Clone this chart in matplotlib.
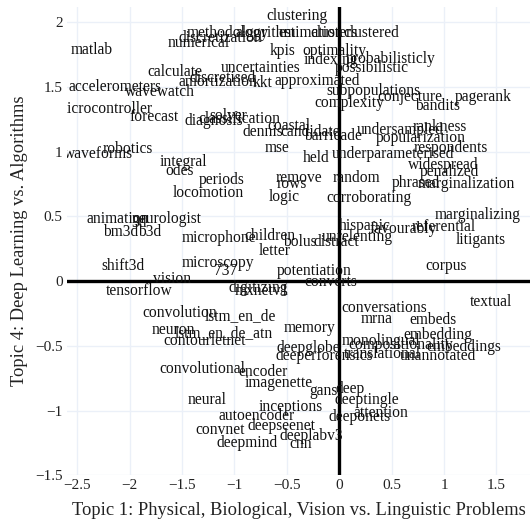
import matplotlib.pyplot as plt

# words and their topic coordinates
words = ['clustering', 'methodology', 'algorithm', 'estimation', 'clusters', 'clustered',
         'discretization', 'numerical', 'matlab', 'kpis', 'optimality', 'indexing',
         'probabilisticly', 'possibilistic', 'uncertainties', 'calculate', 'discretised',
         'amortization', 'kkt', 'approximated', 'accelerometers', 'wavewatch',
         'subpopulations', 'complexity', 'conjecture', 'pagerank', 'bandits',
         'microcontroller', 'forecast', 'diagnosis', 'solver', 'classification', 'coastal',
         'dennis', 'candidate', 'barricade', 'undersampled', 'rankness', 'popularization',
         'mse', 'held', 'underparameterised', 'respondents', 'widespread', 'penalized',
         'remove', 'rows', 'random', 'phrased', 'marginalization', 'logic', 'corroborating',
         'marginalizing', 'hispanic', 'favourably', 'referential', 'litigants', 'unrelenting',
         'bolus', 'distract', 'children', 'letter', 'microphone', 'robotics', 'waveforms',
         'integral', 'odes', 'periods', 'locomotion', 'animation', 'neurologist', '3d',
         'bm3d', 'b3d', 'shift3d', 'microscopy', '737', 'vision', 'tensorflow', 'digitizing',
         'mxnetv1', 'potentiation', 'converts', 'corpus', 'textual', 'conversations', 'mrna',
         'embeds', 'memory', 'embedding', 'monolingual', 'compositionality', 'embeddings',
         'translational', 'unannotated', 'deepglobe', 'deeperforensics', 'convolution',
         'lstm_en_de', 'neuron', 'lstm_en_de_atn', 'contourletnet', 'convolutional',
         'encoder', 'imagenette', 'neural', 'inceptions', 'autoencoder', 'deepseenet',
         'convnet', 'deepmind', 'deeplabv3', 'cnn', 'gans', 'deep', 'deeptingle',
         'attention', 'deeponets']

topic1 = [-0.40, -1.06, -0.70, -0.27, -0.05, 0.31,
          -1.13, -1.34, -2.36, -0.54, -0.05, -0.08,
          0.49, 0.31, -0.75, -1.57, -1.11,
          -1.16, -0.73, -0.21, -2.14, -1.71,
          0.33, 0.10, 0.67, 1.37, 0.94,
          -2.24, -1.77, -1.20, -1.06, -0.95, -0.48,
          -0.73, -0.28, -0.06, 0.58, 0.96, 0.78,
          -0.59, -0.22, 0.51, 1.06, 0.99, 1.05,
          -0.38, -0.45, 0.16, 0.73, 1.21, -0.53, 0.28,
          1.32, 0.24, 0.61, 1.00, 1.35, 0.17,
          -0.38, -0.03, -0.66, -0.62, -1.15, -2.02, -2.30,
          -1.49, -1.52, -1.12, -1.25, -2.11, -1.65, -1.91,
          -2.09, -1.81, -2.06, -1.16, -1.08, -1.60, -1.91, -0.77,
          -0.74, -0.24, -0.08, 1.02, 1.45, 0.43, 0.36,
          0.89, -0.28, 0.94, 0.40, 0.59, 1.19,
          0.41, 0.94, -0.30, -0.14, -1.52,
          -0.94, -1.58, -1.10, -1.28, -1.31,
          -0.73, -0.58, -1.26, -0.46, -0.79, -0.55,
          -1.14, -0.88, -0.27, -0.37, -0.15, 0.10, 0.26,
          0.40, 0.19]

topic4 = [2.05, 1.92, 1.92, 1.92, 1.92, 1.92,
          1.88, 1.84, 1.79, 1.78, 1.78, 1.71,
          1.72, 1.65, 1.65, 1.62, 1.57,
          1.54, 1.53, 1.55, 1.50, 1.46,
          1.47, 1.38, 1.42, 1.42, 1.35,
          1.33, 1.27, 1.24, 1.28, 1.25, 1.20,
          1.15, 1.15, 1.12, 1.17, 1.19, 1.11,
          1.03, 0.95, 0.98, 1.03, 0.90, 0.84,
          0.80, 0.75, 0.80, 0.76, 0.75, 0.65, 0.64,
          0.51, 0.43, 0.40, 0.42, 0.32, 0.34,
          0.30, 0.30, 0.35, 0.23, 0.33, 1.02, 0.98,
          0.92, 0.85, 0.78, 0.68, 0.48, 0.48, 0.45,
          0.38, 0.38, 0.12, 0.14, 0.08, 0.02, -0.08, -0.05,
          -0.08, 0.08, -0.01, 0.12, -0.16, -0.21, -0.29,
          -0.30, -0.36, -0.42, -0.46, -0.49, -0.51,
          -0.56, -0.58, -0.52, -0.58, -0.25,
          -0.27, -0.38, -0.40, -0.46, -0.68,
          -0.70, -0.79, -0.92, -0.97, -1.04, -1.12,
          -1.15, -1.25, -1.20, -1.26, -0.85, -0.83, -0.92,
          -1.02, -1.05]

xticks = [-2.5, -2, -1.5, -1, -0.5, 0, 0.5, 1, 1.5]
yticks = [-1.5, -1, -0.5, 0, 0.5, 1, 1.5, 2]

plt.rcParams['font.family'] = ['Liberation Serif', 'DejaVu Serif']

fig = plt.figure(figsize=(5.30, 5.28), dpi=100)
ax = fig.add_axes([0.126, 0.100, 0.874, 0.887])

ax.set_xlim(-2.6, 1.82)
ax.set_ylim(-1.5, 2.12)

# grid and zero lines
ax.set_xticks(xticks)
ax.set_yticks(yticks)
ax.grid(True, color='#ebf0f8', lw=1)
ax.set_axisbelow(True)
ax.axhline(0, color='black', lw=2.4, zorder=1)
ax.axvline(0, color='black', lw=2.4, zorder=1)

for w, x, y in zip(words, topic1, topic4):
    ax.text(x, y, w, ha='center', va='center', fontsize=11.2, color='#111111',
            clip_on=True, zorder=3)

for s in ax.spines.values():
    s.set_visible(False)
ax.tick_params(length=0, labelsize=11, colors='#222222', pad=3)
ax.set_xticklabels([f'{t:g}'.replace('-', '\u2212') for t in xticks])
ax.set_yticklabels([f'{t:g}'.replace('-', '\u2212') for t in yticks])

ax.set_xlabel('Topic 1: Physical, Biological, Vision vs. Linguistic Problems',
              fontsize=13.3, color='#222222', labelpad=7)
ax.set_ylabel('Topic 4: Deep Learning vs. Algorithms', fontsize=13.3,
              color='#222222', labelpad=5)

fig.savefig('out.png', dpi=100)
